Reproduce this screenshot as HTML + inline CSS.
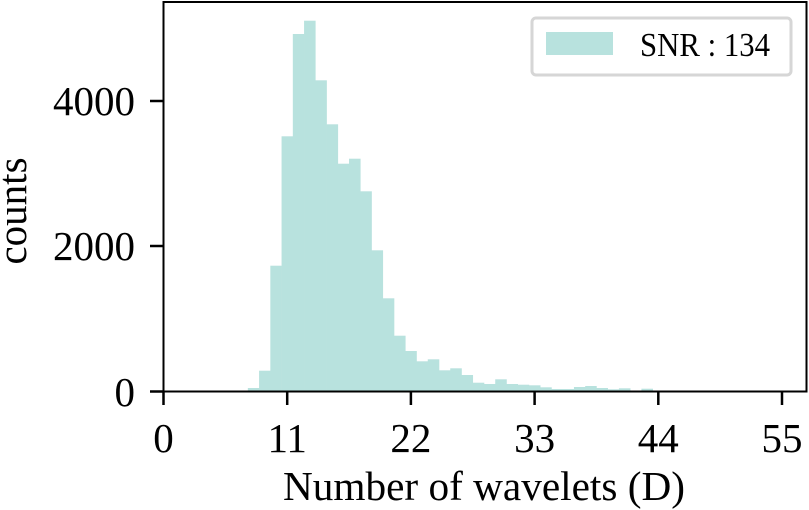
<!DOCTYPE html>
<html><head><meta charset="utf-8"><style>
html,body{margin:0;padding:0;background:#fff;}
svg{display:block;font-family:"Liberation Serif",serif;}
</style></head><body>
<svg id="s" width="809" height="510" viewBox="0 0 809 510" xmlns="http://www.w3.org/2000/svg">
<g id="bars" fill="#b8e2de"></g>
<rect x="163.5" y="2" width="643" height="389.5" fill="none" stroke="#000" stroke-width="2"/>
<g stroke="#000" stroke-width="2.5">
<line x1="163.5" y1="391.5" x2="163.5" y2="405"/>
<line x1="287.2" y1="391.5" x2="287.2" y2="405"/>
<line x1="410.9" y1="391.5" x2="410.9" y2="405"/>
<line x1="534.6" y1="391.5" x2="534.6" y2="405"/>
<line x1="658.3" y1="391.5" x2="658.3" y2="405"/>
<line x1="782" y1="391.5" x2="782" y2="405"/>
<line x1="150" y1="391.5" x2="163.5" y2="391.5"/>
<line x1="150" y1="246" x2="163.5" y2="246"/>
<line x1="150" y1="101" x2="163.5" y2="101"/>
</g>
<g style="font-size:41px" fill="#000" text-anchor="middle">
<text x="163.5" y="452">0</text>
<text x="287.2" y="452">11</text>
<text x="410.9" y="452">22</text>
<text x="534.6" y="452">33</text>
<text x="658.3" y="452">44</text>
<text x="782" y="452">55</text>
</g>
<g style="font-size:41px" fill="#000" text-anchor="end">
<text x="135" y="406">0</text>
<text x="135" y="260">2000</text>
<text x="135" y="115">4000</text>
</g>
<text x="484" y="500" style="font-size:41px" text-anchor="middle" textLength="402" lengthAdjust="spacingAndGlyphs">Number of wavelets (D)</text>
<text transform="translate(26,211) rotate(-90)" style="font-size:41px" text-anchor="middle">counts</text>
<rect x="532" y="18" width="259" height="57" rx="4" fill="#fff" stroke="#d6d6d6" stroke-width="3"/>
<rect x="546" y="32" width="67" height="23" fill="#b8e2de"/>
<text x="640" y="56" style="font-size:34px" textLength="130" lengthAdjust="spacingAndGlyphs">SNR : 134</text>
</svg>
<script>
var tops=[388,370.7,265.7,136.3,34,20.7,80.3,124.3,163.7,158.7,191.3,250.3,298.3,335.7,351,361.3,359.3,370.3,368.3,375,382.7,384,379.3,384,384.7,385.3,387.3,389,389,387,386,388,389.3,388.3,391,388.7];
var g=document.getElementById('bars'),ns="http://www.w3.org/2000/svg",s=11.245;
tops.forEach(function(t,i){if(t>=391)return;var r=document.createElementNS(ns,'rect');
var x=163.5+(7.5+i)*s;r.setAttribute('x',x);r.setAttribute('y',t);r.setAttribute('width',s+0.3);r.setAttribute('height',391.5-t);g.appendChild(r);});
</script>
</body></html>
